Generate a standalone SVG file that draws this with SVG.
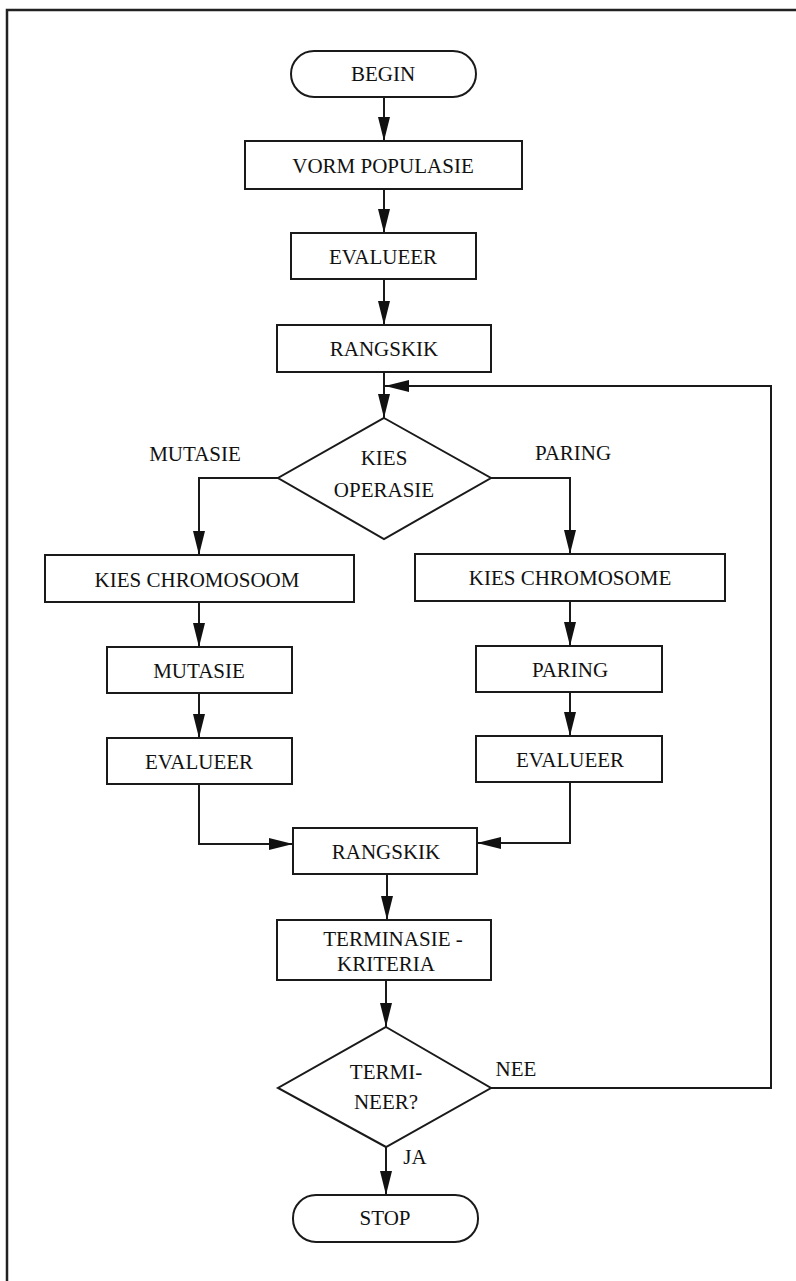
<svg xmlns="http://www.w3.org/2000/svg" width="796" height="1281" viewBox="0 0 796 1281">
<style>
.box{fill:#fff;stroke:#1a1a1a;stroke-width:2}
.ln{fill:none;stroke:#1a1a1a;stroke-width:2}
.t{font-family:"Liberation Serif","Times New Roman",serif;font-size:21px;fill:#111;text-anchor:middle}
.lbl{font-family:"Liberation Serif","Times New Roman",serif;font-size:21px;fill:#111}
</style>
<defs>
<marker id="ah" markerUnits="userSpaceOnUse" markerWidth="24" markerHeight="12" refX="24" refY="6" orient="auto">
<path d="M0,0 L24,6 L0,12 z" fill="#111"/>
</marker>
</defs>
<rect x="0" y="0" width="796" height="1281" fill="#fff"/>
<path d="M7,1281 L7,10 L796,10" fill="none" stroke="#222" stroke-width="2.5"/>

<g id="connectors">
<line class="ln" x1="384" y1="97" x2="384" y2="141" marker-end="url(#ah)"/>
<line class="ln" x1="384" y1="189" x2="384" y2="233" marker-end="url(#ah)"/>
<line class="ln" x1="384" y1="279" x2="384" y2="325" marker-end="url(#ah)"/>
<line class="ln" x1="384" y1="372" x2="384" y2="418" marker-end="url(#ah)"/>
<path class="ln" d="M278,478 L199,478 L199,555" marker-end="url(#ah)"/>
<path class="ln" d="M491,478 L570,478 L570,554" marker-end="url(#ah)"/>
<line class="ln" x1="199" y1="602" x2="199" y2="647" marker-end="url(#ah)"/>
<line class="ln" x1="199" y1="693" x2="199" y2="738" marker-end="url(#ah)"/>
<line class="ln" x1="570" y1="601" x2="570" y2="646" marker-end="url(#ah)"/>
<line class="ln" x1="570" y1="692" x2="570" y2="736" marker-end="url(#ah)"/>
<path class="ln" d="M199,784 L199,844 L293,844" marker-end="url(#ah)"/>
<path class="ln" d="M570,782 L570,843 L477,843" marker-end="url(#ah)"/>
<line class="ln" x1="387" y1="874" x2="387" y2="920" marker-end="url(#ah)"/>
<line class="ln" x1="386" y1="980" x2="386" y2="1027" marker-end="url(#ah)"/>
<line class="ln" x1="386" y1="1147" x2="386" y2="1195" marker-end="url(#ah)"/>
<path class="ln" d="M491,1088 L771,1088 L771,386 L385,386" marker-end="url(#ah)"/>
<text class="lbl" x="195" y="461" text-anchor="middle">MUTASIE</text>
<text class="lbl" x="573" y="460" text-anchor="middle">PARING</text>
<text class="lbl" x="516" y="1076" text-anchor="middle">NEE</text>
<text class="lbl" x="415" y="1164" text-anchor="middle">JA</text>
</g>

<g id="begin">
<rect class="box" x="291" y="51" width="185" height="46" rx="23" ry="23"/>
<text class="t" x="383" y="81">BEGIN</text>
</g>
<g id="vorm">
<rect class="box" x="245" y="141" width="277" height="48"/>
<text class="t" x="383" y="173">VORM POPULASIE</text>
</g>
<g id="evalueer1">
<rect class="box" x="291" y="233" width="185" height="46"/>
<text class="t" x="383" y="264">EVALUEER</text>
</g>
<g id="rangskik1">
<rect class="box" x="277" y="325" width="214" height="47"/>
<text class="t" x="384" y="356">RANGSKIK</text>
</g>
<g id="kies-operasie">
<polygon class="box" points="384,418 491,478 384,539 278,478"/>
<text class="t" x="384" y="465">KIES</text>
<text class="t" x="384" y="497">OPERASIE</text>
</g>
<g id="kies-chromosoom">
<rect class="box" x="45" y="555" width="309" height="47"/>
<text class="t" x="197" y="587">KIES CHROMOSOOM</text>
</g>
<g id="kies-chromosome">
<rect class="box" x="415" y="554" width="310" height="47"/>
<text class="t" x="570" y="585">KIES CHROMOSOME</text>
</g>
<g id="mutasie">
<rect class="box" x="107" y="647" width="185" height="46"/>
<text class="t" x="199" y="678">MUTASIE</text>
</g>
<g id="paring">
<rect class="box" x="476" y="646" width="186" height="46"/>
<text class="t" x="570" y="677">PARING</text>
</g>
<g id="evalueer-left">
<rect class="box" x="107" y="738" width="185" height="46"/>
<text class="t" x="199" y="769">EVALUEER</text>
</g>
<g id="evalueer-right">
<rect class="box" x="476" y="736" width="186" height="46"/>
<text class="t" x="570" y="767">EVALUEER</text>
</g>
<g id="rangskik2">
<rect class="box" x="293" y="828" width="184" height="46"/>
<text class="t" x="386" y="859">RANGSKIK</text>
</g>
<g id="terminasie">
<rect class="box" x="277" y="920" width="214" height="60"/>
<text class="t" x="393" y="946">TERMINASIE -</text>
<text class="t" x="386" y="971">KRITERIA</text>
</g>
<g id="termineer">
<polygon class="box" points="386,1027 491,1088 386,1147 278,1088"/>
<text class="t" x="386" y="1079">TERMI-</text>
<text class="t" x="386" y="1109">NEER?</text>
</g>
<g id="stop">
<rect class="box" x="293" y="1195" width="185" height="47" rx="23" ry="23"/>
<text class="t" x="385" y="1225">STOP</text>
</g>
</svg>
